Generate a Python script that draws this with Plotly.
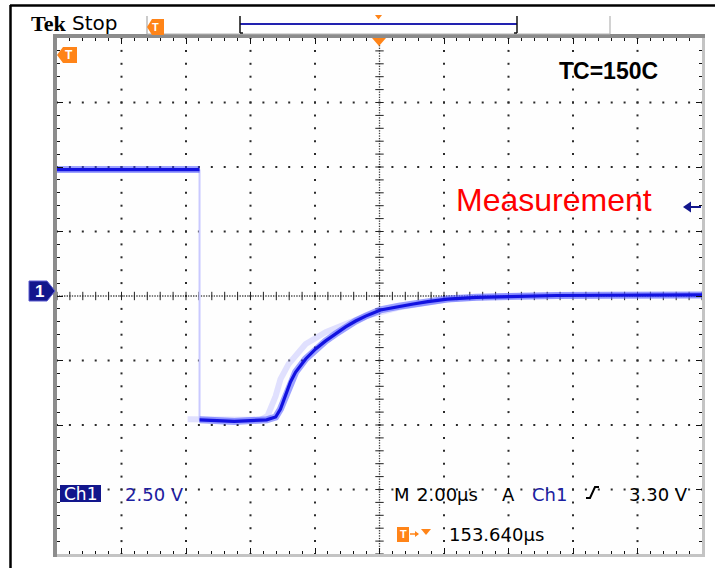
import numpy as np
import plotly.graph_objects as go

W, H = 715, 568

# Channel 1 record: time in µs relative to trigger, amplitude in V
t_high = [-10.0, -5.58]
v_high = [4.9, 4.9]
t_fall = [-5.58, -5.58]
v_fall = [4.9, -4.8]
t_main = [-5.58, -4.5, -3.5, -3.22, -3.07, -2.91, -2.76, -2.60, -2.29, -1.98, -1.67,
          -1.36, -1.05, -0.74, -0.43, 0.03, 0.6, 1.05, 1.5, 2.1, 3.0, 4.0, 5.5, 7.0,
          8.5, 10.0]
v_main = [-4.8, -4.86, -4.8, -4.69, -4.38, -3.88, -3.33, -2.95, -2.44, -2.05, -1.74,
          -1.47, -1.20, -0.97, -0.78, -0.54, -0.40, -0.31, -0.22, -0.12, -0.05, -0.01,
          0.02, 0.03, 0.04, 0.04]
# persistence (previous acquisition)
t_ghost = [-5.95, -4.5, -3.69, -3.47, -3.22, -3.07, -2.82, -2.29, -1.67, -1.05, -0.43,
           0.65, 2.2, 4.0, 10.0]
v_ghost = [-4.78, -4.8, -4.8, -4.65, -3.88, -3.22, -2.64, -1.86, -1.40, -1.09, -0.78,
           -0.43, -0.12, 0.0, 0.04]

# scope settings
sec_per_div = 2.0      # µs
volt_per_div = 2.5     # V
n_xdiv, n_ydiv = 10, 8
trig_level = 3.30

x_lim = n_xdiv / 2 * sec_per_div
y_lim = n_ydiv / 2 * volt_per_div


def PX(x):
    return x / W


def PY(y):
    return 1 - y / H


fig = go.Figure()

# graticule dots on the division lines
x_div = np.arange(-x_lim, x_lim + 1e-9, sec_per_div)
y_div = np.arange(-y_lim, y_lim + 1e-9, volt_per_div)
x_minor = np.arange(-x_lim, x_lim + 1e-9, sec_per_div / 5)
y_minor = np.arange(-y_lim, y_lim + 1e-9, volt_per_div / 5)
gx, gy = [], []
for xv in x_div[1:-1]:
    if abs(xv) < 1e-9:
        continue
    gx += [xv] * len(y_minor)
    gy += list(y_minor)
for yv in y_div[1:-1]:
    if abs(yv) < 1e-9:
        continue
    gx += list(x_minor)
    gy += [yv] * len(x_minor)
fig.add_trace(go.Scatter(x=gx, y=gy, mode="markers", hoverinfo="skip",
                         marker=dict(symbol="square", size=2, color="#2a2a2a", line_width=0)))

# centre cross: dense dots plus minor ticks
x_fine = np.arange(-x_lim, x_lim + 1e-9, sec_per_div / 25)
y_fine = np.arange(-y_lim, y_lim + 1e-9, volt_per_div / 25)
fig.add_trace(go.Scatter(x=list(x_fine) + [0] * len(y_fine),
                         y=[0] * len(x_fine) + list(y_fine),
                         mode="markers", hoverinfo="skip",
                         marker=dict(symbol="square", size=1.3, color="#3a3a3a", line_width=0)))
fig.add_trace(go.Scatter(x=x_minor, y=[0] * len(x_minor), mode="markers", hoverinfo="skip",
                         marker=dict(symbol="line-ns", size=6, line=dict(width=1, color="#222"))))
fig.add_trace(go.Scatter(x=[0] * len(y_minor), y=y_minor, mode="markers", hoverinfo="skip",
                         marker=dict(symbol="line-ew", size=6, line=dict(width=1, color="#222"))))

# waveform
fig.add_trace(go.Scatter(x=t_ghost, y=v_ghost, mode="lines", hoverinfo="skip",
                         line=dict(color="rgba(180,180,255,0.4)", width=6)))
fig.add_trace(go.Scatter(x=t_fall, y=v_fall, mode="lines", hoverinfo="skip",
                         line=dict(color="#c9c9ff", width=2)))
t_all = t_high + [None] + t_main
v_all = v_high + [None] + v_main
fig.add_trace(go.Scatter(x=t_all, y=v_all, mode="lines", hoverinfo="skip",
                         line=dict(color="rgba(60,70,255,0.5)", width=7)))
fig.add_trace(go.Scatter(x=t_all, y=v_all, mode="lines", hoverinfo="skip",
                         line=dict(color="#1212e0", width=3.2)))

axis_common = dict(showgrid=False, zeroline=False, showticklabels=False,
                   ticks="inside", tickcolor="#111", tickwidth=1, ticklen=6,
                   mirror="allticks", showline=True, linecolor="#444", linewidth=1,
                   fixedrange=True)
fig.update_xaxes(range=[-x_lim, x_lim], domain=[PX(57), PX(702)],
                 tickvals=list(x_div),
                 minor=dict(tickvals=list(x_minor), ticks="inside", ticklen=3,
                            tickcolor="#111", tickwidth=1),
                 **axis_common)
fig.update_yaxes(range=[-y_lim, y_lim], domain=[PY(554), PY(38)],
                 tickvals=list(y_div),
                 minor=dict(tickvals=list(y_minor), ticks="inside", ticklen=3,
                            tickcolor="#111", tickwidth=1),
                 **axis_common)

ORANGE = "#ff8418"
NAVY = "#12168c"
BLUE_TXT = "#1c20a0"


def rect(x0, y0, x1, y1, fill, line_w=0, line_c=None):
    return dict(type="rect", xref="paper", yref="paper",
                x0=PX(x0), x1=PX(x1), y0=PY(y1), y1=PY(y0),
                fillcolor=fill, line=dict(width=line_w, color=line_c or fill))


def path(points, fill=None, color="#000", width=0, closed=True):
    d = "M " + " L ".join(f"{PX(x):.5f},{PY(y):.5f}" for x, y in points)
    if closed:
        d += " Z"
    s = dict(type="path", xref="paper", yref="paper", path=d,
             line=dict(width=width, color=color))
    if fill:
        s["fillcolor"] = fill
    return s


def seg(x0, y0, x1, y1, color, width):
    return dict(type="line", xref="paper", yref="paper",
                x0=PX(x0), y0=PY(y0), x1=PX(x1), y1=PY(y1),
                line=dict(color=color, width=width))


shapes = [
    # outer frame
    seg(10.5, 5, 10.5, 568, "#000", 2.5),
    seg(10, 5.5, 715, 5.5, "#000", 2.5),
    # graticule edge bars
    rect(53, 34, 57, 557, "#8c8c8c"),
    rect(53, 34, 705, 38, "#8c8c8c"),
    rect(702, 38, 705, 557, "#c4c4c4"),
    rect(57, 554, 705, 557, "#c4c4c4"),
    # header record-view tab
    seg(147, 16, 147, 34, "#a8a8a8", 1.2),
    seg(147, 34, 610, 34, "#b4b4b4", 1.2),
    seg(610, 16, 610, 34, "#b4b4b4", 1.2),
    seg(240, 24, 517, 24, "#2222b0", 2),
    seg(240, 16, 240, 33, "#111", 1.5),
    seg(240, 33, 243, 33, "#111", 1.5),
    seg(517, 16, 517, 33, "#111", 1.5),
    seg(514, 33, 517, 33, "#111", 1.5),
    path([(375, 15), (382, 15), (378.5, 19.5)], fill=ORANGE, color=ORANGE),
    # trigger position markers
    path([(147, 27), (152, 19), (164, 19), (164, 35), (152, 35)], fill=ORANGE, color=ORANGE),
    path([(57, 55), (63, 47), (77, 47), (77, 63), (63, 63)], fill=ORANGE, color=ORANGE),
    path([(372, 38), (386, 38), (379, 46)], fill=ORANGE, color=ORANGE),
    # channel 1 ground marker
    path([(29, 281), (47, 281), (55, 291), (47, 301), (29, 301)], fill=NAVY, color="#5a5ad0", width=1),
    # trigger level arrow
    path([(683, 207), (691, 201.5), (691, 212.5)], fill=NAVY, color=NAVY),
    seg(689, 207, 701, 207, NAVY, 2),
    # Ch1 readout box
    rect(60, 485, 101, 502, NAVY),
    # rising-edge slope glyph
    path([(586, 498), (590, 498), (595, 487), (599, 487)], color="#000", width=2, closed=False),
    # trigger-to-reference readout icon
    rect(397, 527, 409, 542, ORANGE),
    seg(410, 534, 418, 534, ORANGE, 1.5),
    path([(415, 531), (419, 534), (415, 537)], fill=ORANGE, color=ORANGE),
    path([(421, 529), (431, 529), (426, 535)], fill=ORANGE, color=ORANGE),
]


def label(x, y, text, size, color="#000", family="DejaVu Sans", anchor="left"):
    return dict(xref="paper", yref="paper", x=PX(x), y=PY(y), text=text,
                showarrow=False, xanchor=anchor, yanchor="middle",
                font=dict(size=size, color=color, family=family))


annotations = [
    label(29, 24, "<b>Tek</b>", 22, family="Liberation Serif"),
    label(70, 23, "Stop", 20),
    label(155.5, 27, "<b>T</b>", 11, color="#fff", family="Liberation Sans", anchor="center"),
    label(69, 55, "<b>T</b>", 12, color="#fff", family="Liberation Sans", anchor="center"),
    label(403, 534, "<b>T</b>", 11, color="#fff", family="Liberation Sans", anchor="center"),
    label(39, 291, "<b>1</b>", 17, color="#fff", family="Liberation Sans", anchor="center"),
    label(608, 71, "<b>TC=150C</b>", 23, family="Liberation Sans", anchor="center"),
    label(554, 200, "Measurement", 32, color="#ff0000", family="Liberation Sans", anchor="center"),
    label(80.5, 494, "Ch1", 17, color="#fff", anchor="center"),
    label(123, 494, "2.50 V", 18, color=BLUE_TXT),
    label(392, 494, "M", 18),
    label(415, 494, "2.00µs", 18),
    label(500, 494, "A", 18),
    label(530, 494, "Ch1", 18, color=BLUE_TXT),
    label(627, 494, "3.30 V", 18),
    label(447, 534, "153.640µs", 18),
]

fig.update_layout(width=W, height=H, margin=dict(l=0, r=0, t=0, b=0),
                  paper_bgcolor="#ffffff", plot_bgcolor="#fefefe",
                  showlegend=False, shapes=shapes, annotations=annotations)

fig.write_html("out.html")
